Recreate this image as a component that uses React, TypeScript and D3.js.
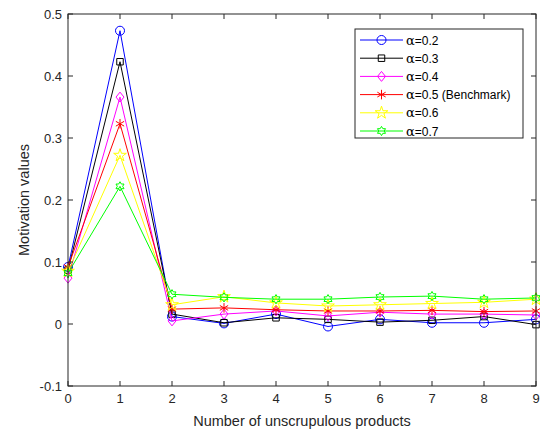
import React from "react";
import * as d3 from "d3";

const xValues = [0, 1, 2, 3, 4, 5, 6, 7, 8, 9];
const xTicks = [0, 1, 2, 3, 4, 5, 6, 7, 8, 9];
const yTicks = [-0.1, 0, 0.1, 0.2, 0.3, 0.4, 0.5];

const alphaLabels = ["0.2", "0.3", "0.4", "0.5 (Benchmark)", "0.6", "0.7"];
const seriesColors = ["#0000ff", "#000000", "#ff00ff", "#ff0000", "#ffff00", "#00ff00"];

const a02 = [0.092, 0.473, 0.012, 0.001, 0.016, -0.004, 0.0075, 0.002, 0.002, 0.0075];
const a03 = [0.087, 0.423, 0.016, 0.002, 0.01, 0.0075, 0.003, 0.006, 0.012, -0.001];
const a04 = [0.074, 0.366, 0.005, 0.016, 0.021, 0.013, 0.019, 0.016, 0.016, 0.0145];
const a05 = [0.092, 0.323, 0.024, 0.026, 0.023, 0.021, 0.021, 0.022, 0.02, 0.021];
const a06 = [0.085, 0.272, 0.031, 0.044, 0.034, 0.029, 0.031, 0.033, 0.035, 0.04];
const a07 = [0.082, 0.222, 0.048, 0.043, 0.04, 0.04, 0.0435, 0.045, 0.04, 0.042];

const allSeries = [a02, a03, a04, a05, a06, a07];

const W = 540;
const H = 434;
const margin = { left: 68, right: 4, top: 14, bottom: 48 };

// hexagram outline
const symbolHexagram = {
  draw(ctx: any, size: number) {
    const R = Math.sqrt(size) * 0.62;
    const r = R * 0.577;
    for (let i = 0; i < 12; i++) {
      const a = (Math.PI / 6) * i - Math.PI / 2;
      const rad = i % 2 === 0 ? R : r;
      const px = rad * Math.cos(a);
      const py = rad * Math.sin(a);
      if (i === 0) ctx.moveTo(px, py);
      else ctx.lineTo(px, py);
    }
    ctx.closePath();
  },
};

// diamond, a bit narrower than tall like matlab's
const symbolRhomb = {
  draw(ctx: any, size: number) {
    const h = Math.sqrt(size) * 0.62;
    const w = h * 0.8;
    ctx.moveTo(0, -h);
    ctx.lineTo(w, 0);
    ctx.lineTo(0, h);
    ctx.lineTo(-w, 0);
    ctx.closePath();
  },
};

const markerTypes = [
  d3.symbolCircle,
  d3.symbolSquare,
  symbolRhomb,
  d3.symbolAsterisk,
  d3.symbolStar,
  symbolHexagram,
];
const markerSizes = [64, 42, 64, 64, 50, 56];

export default function App() {
  const x = d3.scaleLinear().domain([0, 9]).range([margin.left, W - margin.right]);
  const y = d3.scaleLinear().domain([-0.1, 0.5]).range([H - margin.bottom, margin.top]);

  const line = d3
    .line<number>()
    .x((_, i) => x(xValues[i]))
    .y((d) => y(d));

  const x0 = margin.left;
  const x1 = W - margin.right;
  const y0 = H - margin.bottom;
  const y1 = margin.top;
  const axisColor = "#262626";
  const font = "'Liberation Sans', Arial, sans-serif";

  const legend = { x: 355, y: 29, w: 168, h: 109, row: 18.2 };

  return (
    <svg
      width={W}
      height={H}
      style={{ position: "absolute", left: 0, top: 0, background: "#fff" }}
      fontFamily={font}
    >
      <rect x={0} y={0} width={W} height={H} fill="#fff" />
      {/* series */}
      {allSeries.map((s, k) => (
        <g key={k}>
          <path d={line(s) || ""} fill="none" stroke={seriesColors[k]} strokeWidth={1} />
          {s.map((v, i) => (
            <path
              key={i}
              transform={`translate(${x(xValues[i])},${y(v)})`}
              d={d3.symbol(markerTypes[k] as any, markerSizes[k])() || ""}
              fill="none"
              stroke={seriesColors[k]}
              strokeWidth={1}
            />
          ))}
        </g>
      ))}

      {/* box */}
      <rect x={x0} y={y1} width={x1 - x0} height={y0 - y1} fill="none" stroke={axisColor} strokeWidth={1} />
      {xTicks.map((t) => (
        <g key={"x" + t}>
          <line x1={x(t)} x2={x(t)} y1={y0} y2={y0 - 5} stroke={axisColor} />
          <line x1={x(t)} x2={x(t)} y1={y1} y2={y1 + 5} stroke={axisColor} />
          <text x={x(t)} y={y0 + 17} textAnchor="middle" fontSize={13} fill={axisColor}>
            {t}
          </text>
        </g>
      ))}
      {yTicks.map((t) => (
        <g key={"y" + t}>
          <line x1={x0} x2={x0 + 5} y1={y(t)} y2={y(t)} stroke={axisColor} />
          <line x1={x1} x2={x1 - 5} y1={y(t)} y2={y(t)} stroke={axisColor} />
          <text x={x0 - 6} y={y(t) + 4.5} textAnchor="end" fontSize={13} fill={axisColor}>
            {String(+t.toFixed(1))}
          </text>
        </g>
      ))}
      <text x={(x0 + x1) / 2} y={H - 8} textAnchor="middle" fontSize={14.5} fill={axisColor}>
        Number of unscrupulous products
      </text>
      <text
        transform={`translate(29,${(y0 + y1) / 2}) rotate(-90)`}
        textAnchor="middle"
        fontSize={14.5}
        fill={axisColor}
      >
        Motivation values
      </text>

      {/* legend */}
      <rect x={legend.x} y={legend.y} width={legend.w} height={legend.h} fill="#fff" stroke={axisColor} strokeWidth={1} />
      {alphaLabels.map((lab, k) => {
        const ly = legend.y + 11 + k * legend.row;
        return (
          <g key={"l" + k}>
            <line x1={legend.x + 5} x2={legend.x + 48} y1={ly} y2={ly} stroke={seriesColors[k]} />
            <path
              transform={`translate(${legend.x + 26.5},${ly})`}
              d={d3.symbol(markerTypes[k] as any, markerSizes[k])() || ""}
              fill="none"
              stroke={seriesColors[k]}
            />
            <text x={legend.x + 51} y={ly + 4.5} fontSize={12} fill="#000">
              <tspan fontFamily="'DejaVu Serif', serif" fontSize={13}>α</tspan>
              <tspan>={lab}</tspan>
            </text>
          </g>
        );
      })}
    </svg>
  );
}
